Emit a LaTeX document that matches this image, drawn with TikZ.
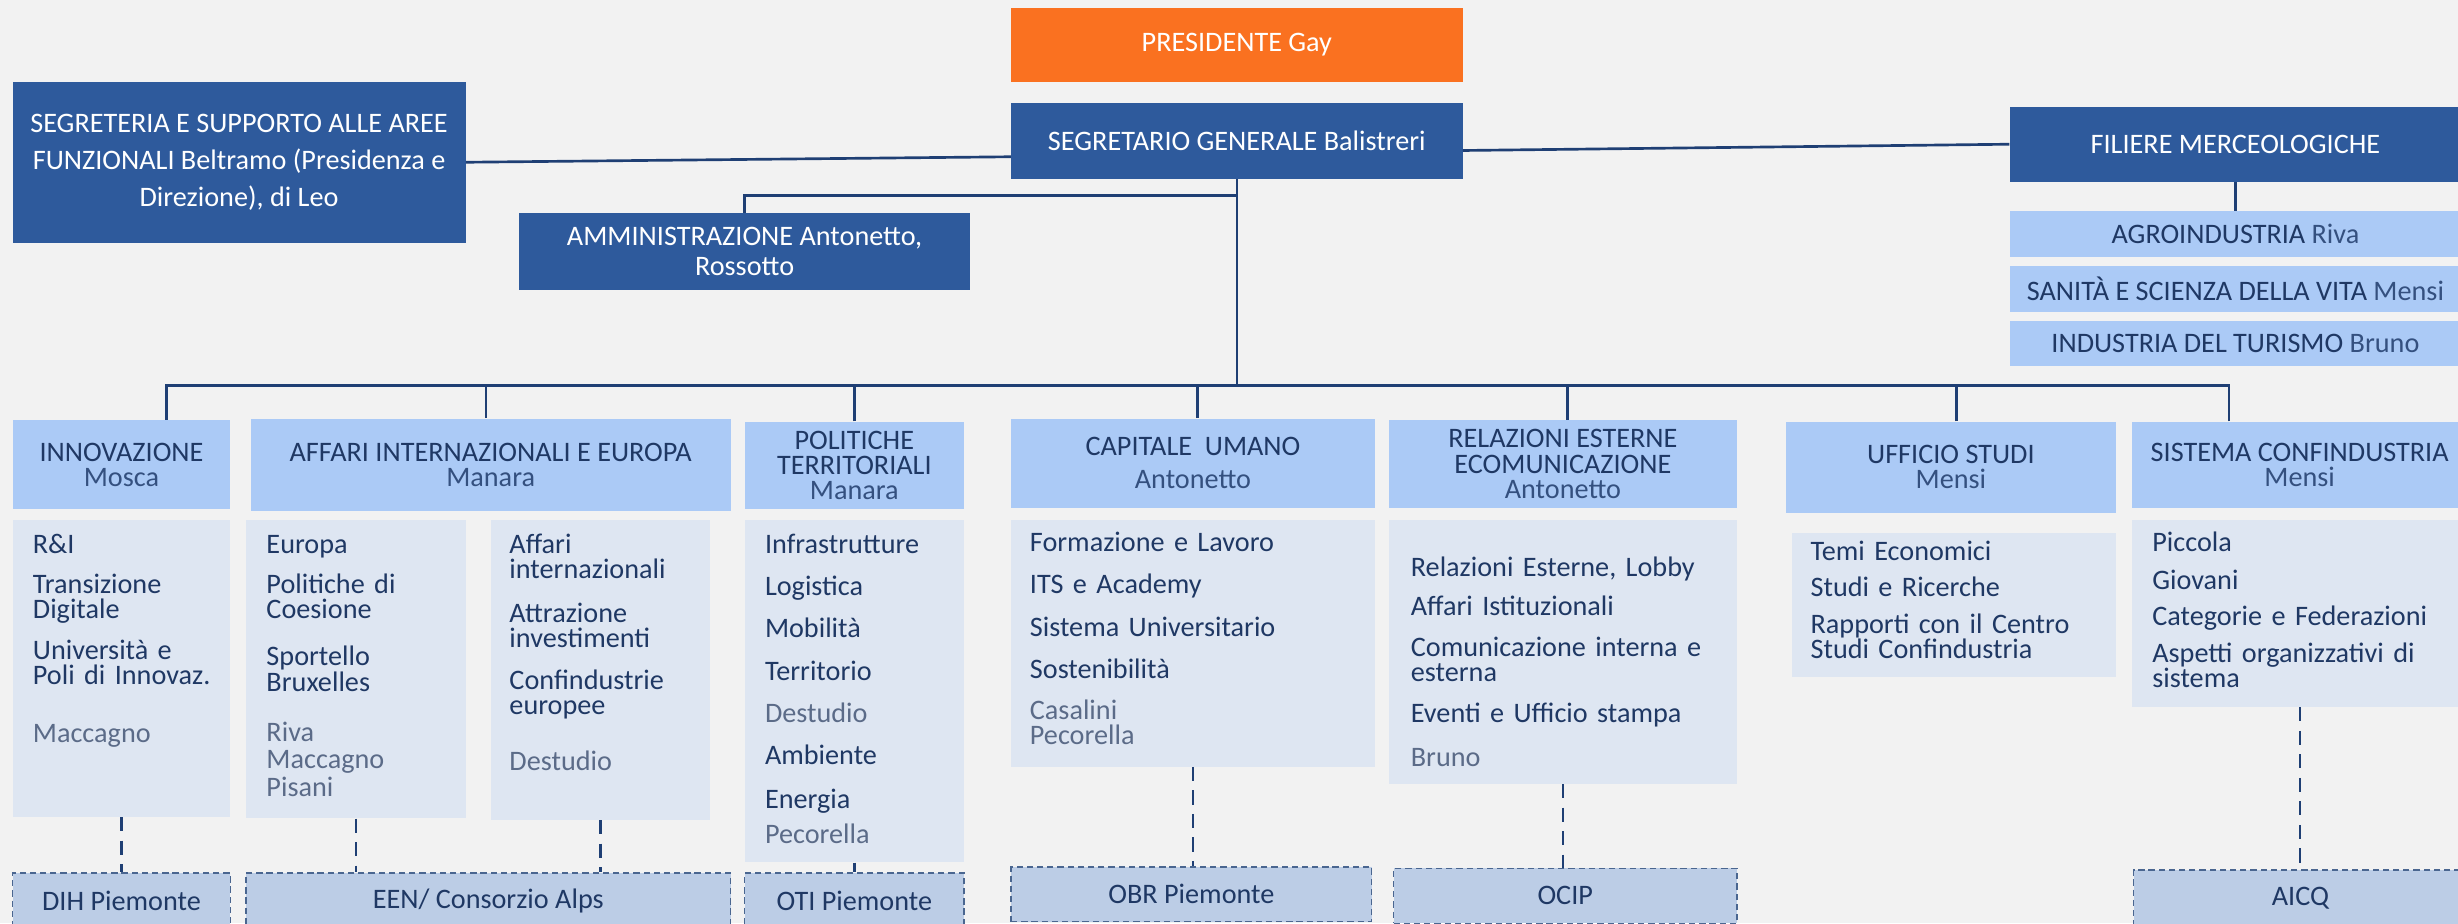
\documentclass[tikz,border=0pt]{standalone}
\usepackage{fontspec}
\setmainfont{Carlito}
\setlength{\lineskiplimit}{-20pt}

\definecolor{bgc}{HTML}{F2F2F2}
\definecolor{darkc}{HTML}{2E5A9C}
\definecolor{presc}{HTML}{FA7120}
\definecolor{headc}{HTML}{ABCAF6}
\definecolor{bodyc}{HTML}{DEE6F2}
\definecolor{extc}{HTML}{BCCDE6}
\definecolor{linec}{HTML}{1F3F74}
\definecolor{navy}{HTML}{1F3864}
\definecolor{hname}{HTML}{34507F}
\definecolor{bname}{HTML}{5B6B88}
\definecolor{extline}{HTML}{4A6690}

\newcommand{\orgfont}{\fontsize{18}{16}\selectfont}
\newcommand{\hdname}[1]{{\color{hname}#1}}
\newcommand{\bdname}[1]{{\color{bname}#1}}

\begin{document}
\begin{tikzpicture}[x=1pt,y=-1pt,
    top/.style={rectangle,inner sep=0pt,align=center,font=\orgfont,fill=darkc,text=white},
    sub/.style={rectangle,inner sep=0pt,align=center,font=\orgfont,fill=headc,text=navy},
    body/.style={rectangle,inner sep=0pt,fill=bodyc},
    items/.style={inner sep=0pt,align=left,font=\orgfont,text=navy,anchor=base west},
    ext/.style={rectangle,inner sep=0pt,font=\orgfont,fill=extc,text=navy,draw=extline,line width=0.9pt,dash pattern=on 4pt off 2.5pt},
    conn/.style={draw=linec,line width=1.7pt},
    link/.style={draw=linec,line width=1.5pt,dash pattern=on 9pt off 6pt}]
  \useasboundingbox (0,0) rectangle (1568,589);
  \clip (0,0) rectangle (1568,589);
  \fill[bgc] (0,0) rectangle (1568,589);

  % vertice
  \node[top,fill=presc,minimum width=288pt,minimum height=47pt] (pres) at (789,28.5) {PRESIDENTE Gay};
  \node[top,minimum width=288pt,minimum height=48pt] (sg) at (789,90) {SEGRETARIO GENERALE Balistreri};
  \node[top,minimum width=289pt,minimum height=103pt] (segr) at (152.5,103.5)
    {SEGRETERIA E SUPPORTO ALLE AREE\\[7.5pt]FUNZIONALI Beltramo (Presidenza e\\[7.5pt]Direzione), di Leo};
  \node[top,minimum width=288pt,minimum height=49pt] (amm) at (475,160.5) {AMMINISTRAZIONE Antonetto,\\[3pt]Rossotto};
  \node[top,minimum width=288pt,minimum height=48pt] (fil) at (1426,92) {FILIERE MERCEOLOGICHE};
  \node[sub,minimum width=288pt,minimum height=29.5pt] (agro) at (1426,149.25) {AGROINDUSTRIA \hdname{Riva}};
  \node[sub,minimum width=288pt,minimum height=29.5pt] (san) at (1426,184.25) {SANITÀ E SCIENZA DELLA VITA \hdname{Mensi}};
  \node[sub,minimum width=288pt,minimum height=29pt] (tur) at (1426,219) {INDUSTRIA DEL TURISMO \hdname{Bruno}};

  % aree
  \node[sub,minimum width=139pt,minimum height=57pt] (hinn) at (77.5,296.5) {INNOVAZIONE\\\hdname{Mosca}};
  \node[sub,minimum width=306pt,minimum height=59pt] (haf) at (313,296.5) {AFFARI INTERNAZIONALI E EUROPA\\\hdname{Manara}};
  \node[sub,minimum width=140pt,minimum height=56pt] (hpol) at (545,297) {POLITICHE\\TERRITORIALI\\\hdname{Manara}};
  \node[sub,minimum width=232pt,minimum height=57pt] (hcap) at (761,295.5) {CAPITALE\ \ UMANO\\[5pt]\hdname{Antonetto}};
  \node[sub,minimum width=222pt,minimum height=56pt] (hrel) at (997,296) {RELAZIONI ESTERNE\\ECOMUNICAZIONE\\\hdname{Antonetto}};
  \node[sub,minimum width=211pt,minimum height=58pt] (huff) at (1244.5,298) {UFFICIO STUDI\\\hdname{Mensi}};
  \node[sub,minimum width=214pt,minimum height=55pt] (hsis) at (1467,296.5) {SISTEMA CONFINDUSTRIA\\\hdname{Mensi}};

  % uffici
  \node[body,minimum width=139pt,minimum height=189pt] (binn) at (77.5,426.5) {};
  \node[body,minimum width=140pt,minimum height=190pt] (baf1) at (227,427) {};
  \node[body,minimum width=140pt,minimum height=191pt] (baf2) at (383,427.5) {};
  \node[body,minimum width=140pt,minimum height=218pt] (bpol) at (545,441) {};
  \node[body,minimum width=232pt,minimum height=157pt] (bcap) at (761,410.5) {};
  \node[body,minimum width=222pt,minimum height=168pt] (brel) at (997,416) {};
  \node[body,minimum width=207pt,minimum height=92pt] (buff) at (1246.5,386) {};
  \node[body,minimum width=214pt,minimum height=119pt] (bsis) at (1467,391.5) {};

  \node[items,text width=125pt] (tinn) at ([shift={(13,21)}]binn.north west)
    {R\&I\\[10pt]Transizione\\Digitale\\[10pt]Università e\\Poli di Innovaz.\\[21pt]\bdname{Maccagno}};
  \node[items,text width=126pt] (taf1) at ([shift={(13,21)}]baf1.north west)
    {Europa\\[10pt]Politiche di\\Coesione\\[14pt]Sportello\\Bruxelles\\[16pt]\bdname{Riva}\\[1.5pt]\bdname{Maccagno}\\[1.5pt]\bdname{Pisani}};
  \node[items,text width=126pt] (taf2) at ([shift={(12,21)}]baf2.north west)
    {Affari\\internazionali\\[12pt]Attrazione\\investimenti\\[11pt]Confindustrie\\europee\\[20pt]\bdname{Destudio}};
  \node[items,text width=126pt] (tpol) at ([shift={(13,21)}]bpol.north west)
    {Infrastrutture\\[11pt]Logistica\\[11pt]Mobilità\\[11pt]Territorio\\[11pt]\bdname{Destudio}\\[11pt]Ambiente\\[12pt]Energia\\[6pt]\bdname{Pecorella}};
  \node[items,text width=218pt] (tcap) at ([shift={(12,20)}]bcap.north west)
    {Formazione e Lavoro\\[11pt]ITS e Academy\\[11pt]Sistema Universitario\\[11pt]Sostenibilità\\[10pt]\bdname{Casalini}\\\bdname{Pecorella}};
  \node[items,text width=206pt] (trel) at ([shift={(14,36)}]brel.north west)
    {Relazioni Esterne, Lobby\\[9pt]Affari Istituzionali\\[10pt]Comunicazione interna e\\esterna\\[10pt]Eventi e Ufficio stampa\\[12pt]\bdname{Bruno}};
  \node[items,text width=194pt] (tuff) at ([shift={(12,18)}]buff.north west)
    {Temi Economici\\[7pt]Studi e Ricerche\\[7pt]Rapporti con il Centro\\Studi Confindustria};
  \node[items,text width=200pt] (tsis) at ([shift={(13,20)}]bsis.north west)
    {Piccola\\[8pt]Giovani\\[7pt]Categorie e Federazioni\\[8pt]Aspetti organizzativi di\\sistema};

  % enti collegati
  \node[ext,minimum width=139pt,minimum height=36pt] (dih) at (77.5,575) {DIH Piemonte};
  \node[ext,minimum width=309pt,minimum height=36pt] (een) at (311.5,575) {EEN/ Consorzio Alps};
  \node[ext,minimum width=140pt,minimum height=36pt] (oti) at (545,575) {OTI Piemonte};
  \node[ext,minimum width=230pt,minimum height=35pt] (obr) at (760,570.5) {OBR Piemonte};
  \node[ext,minimum width=219pt,minimum height=35pt] (ocip) at (998.5,571.5) {OCIP};
  \node[ext,minimum width=213pt,minimum height=36pt] (aicq) at (1467.5,573) {AICQ};

  % collegamenti
  \coordinate (bus) at (789,246);
  \draw[conn] (segr.east) -- ([yshift=-10pt]sg.west);
  \draw[conn] ([yshift=-6pt]sg.east) -- (fil.west);
  \draw[conn] (fil.south) -- (agro.north);
  \draw[conn] (amm.north) -- ++(0,-11) -| (sg.south);
  \draw[conn] (sg.south) -- (bus);
  \draw[conn] ([xshift=28.5pt]hinn.north) |- (bus);
  \draw[conn] ([xshift=-3pt]haf.north) |- (bus);
  \draw[conn] (hpol.north) |- (bus);
  \draw[conn] ([xshift=3pt]hcap.north) |- (bus);
  \draw[conn] ([xshift=3pt]hrel.north) |- (bus);
  \draw[conn] ([xshift=3.5pt]huff.north) |- (bus);
  \draw[conn] ([xshift=-45pt]hsis.north) |- (bus);

  \draw[link] (binn.south) -- (dih.north);
  \draw[link] (baf1.south) -- (baf1.south |- een.north);
  \draw[link] (baf2.south) -- (baf2.south |- een.north);
  \draw[link] (bpol.south) -- (oti.north);
  \draw[link] (bcap.south) -- (bcap.south |- obr.north);
  \draw[link] (brel.south) -- (brel.south |- ocip.north);
  \draw[link] (bsis.south) -- (bsis.south |- aicq.north);
\end{tikzpicture}
\end{document}
